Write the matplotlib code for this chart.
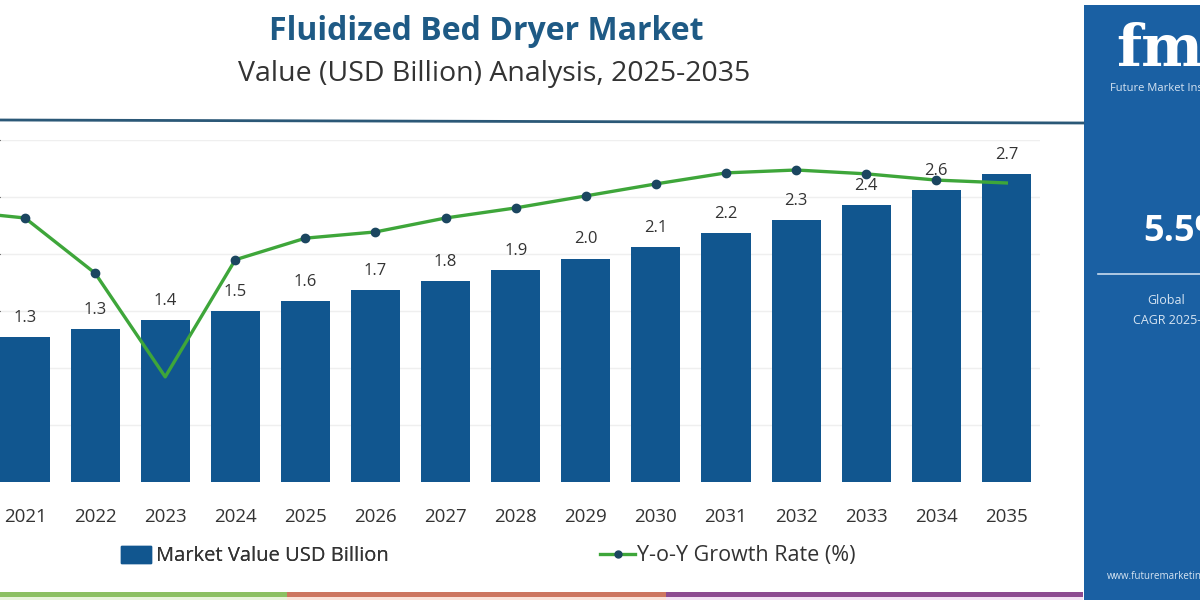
"""
Fluidized Bed Dryer Market - value bars with Y-o-Y growth line.
Recreates the cropped FMI infographic layout (right panel cut at the edge).
"""
import matplotlib
matplotlib.use('Agg')
import matplotlib.pyplot as plt
from matplotlib.patches import Rectangle, Patch
from matplotlib.lines import Line2D

plt.rcParams['font.family'] = ['Open Sans', 'DejaVu Sans']

# data (2020 sits just outside the visible crop)
years = [2020, 2021, 2022, 2023, 2024, 2025, 2026, 2027, 2028,
         2029, 2030, 2031, 2032, 2033, 2034, 2035]
market_value = [1.20, 1.27, 1.34, 1.42, 1.50, 1.59, 1.68, 1.76, 1.86,
                1.96, 2.06, 2.18, 2.30, 2.43, 2.56, 2.70]
value_labels = ['1.2', '1.3', '1.3', '1.4', '1.5', '1.6', '1.7', '1.8', '1.9',
                '2.0', '2.1', '2.2', '2.3', '2.4', '2.6', '2.7']
growth_rate = [5.65, 5.50, 4.35, 2.19, 4.63, 5.08, 5.21, 5.50, 5.71,
               5.96, 6.21, 6.44, 6.50, 6.42, 6.29, 6.23]
no_marker_years = [2023, 2035]

BAR = '#11568f'
GREEN = '#3ea63a'
DOT = '#1b4660'
TEXT = '#333333'

fig = plt.figure(figsize=(12, 6), dpi=100)
W, H = 1200, 600

def fx(px):
    return px / W

def fy(py):
    return 1 - py / H

# main plot area: baseline at y=482 px, 3.0 at y=140 px
ax = fig.add_axes([0, fy(482), fx(1040), fy(140) - fy(482)])
ax.bar(years, market_value, width=0.7, color=BAR, zorder=2)
for yr, v, lab in zip(years, market_value, value_labels):
    ax.annotate(lab, (yr, v), xytext=(0, 8), textcoords='offset points',
                ha='center', va='bottom', fontsize=12, color=TEXT)
ax.set_ylim(0, 3.0)
ax.set_xlim(2020.643, 2035.48)
ax.set_yticks([0.5, 1.0, 1.5, 2.0, 2.5, 3.0])
ax.yaxis.grid(True, color='#efefef', lw=1)
ax.set_axisbelow(True)
ax.set_xticks(years[1:])
ax.set_xticklabels([str(y) for y in years[1:]], fontsize=13.5, color=TEXT)
ax.tick_params(axis='x', length=0, pad=19)
ax.tick_params(axis='y', left=False, labelleft=False)
for s in ax.spines.values():
    s.set_visible(False)

ax2 = ax.twinx()
marks = [i for i, y in enumerate(years) if y not in no_marker_years]
ax2.plot(years, growth_rate, color=GREEN, lw=2.4, marker='o', markersize=6,
         markerfacecolor=DOT, markeredgecolor=DOT, markevery=marks, zorder=3)
ax2.set_ylim(0, 7.125)
ax2.set_xlim(ax.get_xlim())
ax2.axis('off')

# titles
fig.text(fx(486), fy(31), 'Fluidized Bed Dryer Market', ha='center', va='center',
         fontsize=23, fontweight='bold', color='#1e5a85')
fig.text(fx(494), fy(74), 'Value (USD Billion) Analysis, 2025-2035', ha='center',
         va='center', fontsize=20.5, color=TEXT)
fig.add_artist(Line2D([0, fx(1083)], [fy(120), fy(123)], color='#2b5877', lw=2))

# legend, two entries placed apart as in the original
bar_handle = Patch(facecolor=BAR, edgecolor=BAR)
line_handle = Line2D([], [], color=GREEN, lw=2.4, marker='o', markersize=5,
                     markerfacecolor=DOT, markeredgecolor=DOT)
leg1 = fig.legend([bar_handle], ['Market Value USD Billion'], loc='center left',
                  bbox_to_anchor=(fx(103), fy(556)), frameon=False, fontsize=14.5,
                  labelcolor=TEXT, handlelength=1.5, handleheight=0.9,
                  handletextpad=0.25)
fig.legend([line_handle], ['Y-o-Y Growth Rate (%)'], loc='center left',
           bbox_to_anchor=(fx(581), fy(556)), frameon=False, fontsize=15.5,
           labelcolor=TEXT, handlelength=1.6, handletextpad=0.1)
fig.add_artist(leg1)

# bottom colour strip
for x0, x1, c, light in [(0, 287, '#8cc063', '#e8f4dc'),
                         (287, 666, '#cd7660', '#fbe3da'),
                         (666, 1083, '#8d4b91', '#f3e2f4')]:
    fig.add_artist(Rectangle((fx(x0), fy(597)), fx(x1 - x0), 5 / H,
                             color=c, lw=0))
    fig.add_artist(Rectangle((fx(x0), 0), fx(x1 - x0), 3 / H,
                             color=light, lw=0))

# right side panel (cut off by the image edge, like the original)
fig.add_artist(Rectangle((fx(1084), 0), fx(116), fy(5), color='#1a60a3', lw=0))
fig.text(fx(1116), fy(50), 'fmi', ha='left', va='center', fontsize=42,
         fontweight='bold', family='DejaVu Serif', color='white')
fig.text(fx(1110), fy(89), 'Future Market Insights', ha='left', va='center',
         fontsize=8, color='#d6e4f2')
fig.text(fx(1143), fy(232), '5.5%', ha='left', va='center', fontsize=26,
         fontweight='bold', color='white')
fig.add_artist(Line2D([fx(1098), 1], [fy(274), fy(274)], color='#c9dbee', lw=1.2))
fig.text(fx(1147), fy(300), 'Global', ha='left', va='center', fontsize=9,
         color='#d6e4f2')
fig.text(fx(1133), fy(320), 'CAGR 2025-2035', ha='left', va='center', fontsize=9,
         color='#d6e4f2')
fig.text(fx(1107), fy(577), 'www.futuremarketinsights.com', ha='left',
         va='center', fontsize=7, color='#d6e4f2')

fig.savefig('out.png', dpi=100)
